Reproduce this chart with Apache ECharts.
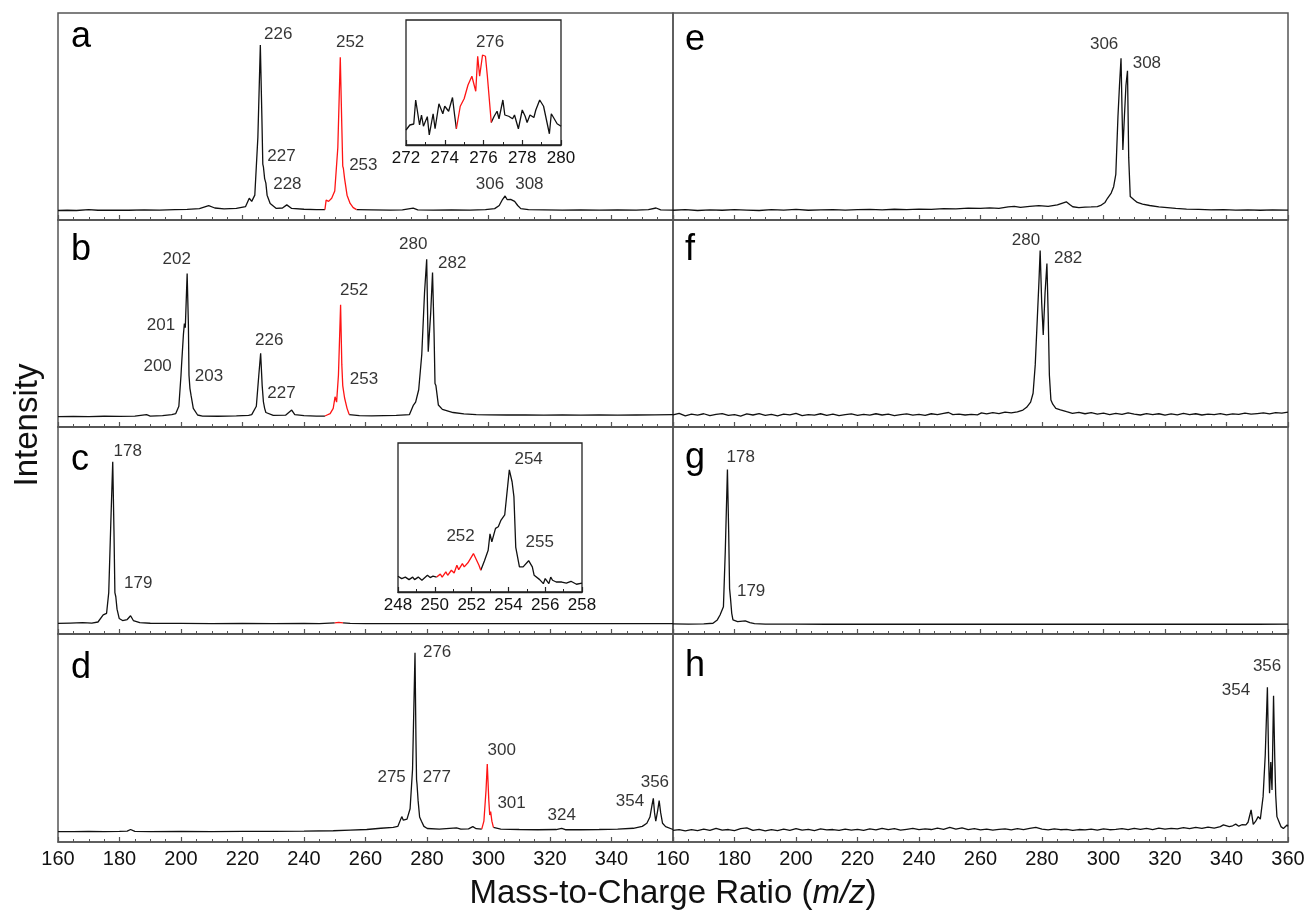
<!DOCTYPE html>
<html>
<head>
<meta charset="utf-8">
<script src="https://cdn.jsdelivr.net/npm/echarts/dist/echarts.min.js"></script>
<style>
html, body { margin: 0; padding: 0; background: #fff; }
#chart { width: 1308px; height: 915px; }
</style>
</head>
<body>
<div id="chart"></div>
<script>
// spectra as [m/z, intensity], intensity on a 0-100 panel scale
var aSpec = [[160,4.6],[163,4.7],[166,4.6],[170,5.0],[173,4.7],[178,4.8],[183,4.7],[188,4.9],[193,4.8],[198,5.0],[202,5.1],[206,5.5],[209,6.9],[211,5.8],[214,5.4],[218,5.6],[221,6.5],[222.2,10.5],[223,9],[224,12],[225,40],[225.8,84.5],[226.3,50],[226.6,27],[226.8,25.7],[227.2,20],[227.6,17.8],[228,12],[229,8],[231,5.6],[233,5.8],[234.4,7.3],[236,5.6],[240,5.2],[244,5.0],[246.8,5.0],
  [247.2,9.6],[248,9],[249,10.5],[250,14],[251,35],[251.8,78.6],[252.3,45],[252.6,26],[252.8,25],[253.2,20],[254,12],[255,8],[256,6],[257.1,5.0],
  [262,4.9],[268,4.8],[272,4.9],[275.5,5.7],[277,4.9],[282,4.8],[288,4.9],[294,4.8],[299,5.0],[302,5.5],[303.5,7],[304.6,10],[305.4,11.6],[306.1,9.8],[306.7,9.2],[307.2,10],[307.7,10.6],[308.5,9],[309.5,7],[310.5,5.5],[313,5.0],[318,4.9],[324,4.8],[330,4.9],[336,4.8],[342,4.9],[348,4.8],[352,5.0],[354.5,5.8],[356,4.9],[360,4.8]];
var aRed = [246.8, 257.1];
var aLabels = [['226',231.6,89.7],['252',255.0,85.7],['227',232.7,30.6],['228',234.6,17.2],['253',259.3,26.6],['306',300.5,17.4],['308',313.3,17.4]];

var aInset = [[272,12],[272.2,16],[272.4,16.8],[272.5,36],[272.7,16],[272.8,24],[272.9,15],[273.1,22.7],[273.2,8],[273.4,25],[273.5,13],[273.7,33],[273.9,25],[274.0,31],[274.2,27],[274.4,38],[274.5,25],[274.6,13],
  [274.8,31],[275.0,37],[275.2,48],[275.3,49],[275.4,55],[275.6,43],[275.7,71],[275.8,55],[275.95,72],[276.1,71],[276.2,55],[276.4,18],
  [276.55,23],[276.7,27],[276.8,21],[277.0,36],[277.1,24],[277.3,23],[277.5,21],[277.6,24],[277.8,13],[278.0,28],[278.15,23],[278.25,18],[278.4,24],[278.6,22],[278.7,28],[278.9,36],[279.1,31],[279.4,9],[279.5,25],[279.8,17],[280,15]];
var aInsetRed = [274.6, 276.4];
var aInsetLabels = [['276',276.34,82.4]];

var bSpec = [[160,5.0],[165,5.1],[170,5.0],[175,5.2],[180,5.1],[185,5.3],[188.8,6.0],[190,5.3],[194,5.5],[197,6.0],[198.3,6.5],[199.3,10],[200,25],[200.2,30.4],[200.5,30],[200.8,45],[201.1,50],[201.4,48],[202,74.2],[202.4,50],[202.6,25],[202.9,18.7],[203.3,15],[204,9],[205.4,5.8],[207,5.3],[212,5.2],[218,5.4],[222,5.6],[223,6.0],[224.5,10],[225.3,25],[225.9,35.6],[226.4,20],[226.8,12.2],[227.2,9],[227.6,7.0],[230,5.6],[234,5.7],[236,8.2],[237,6],[240,5.5],[244,5.3],[246.8,5.3],
  [247.5,5.8],[248.5,6.5],[249.5,9],[250.1,14.6],[250.6,12],[251.2,25],[251.9,59],[252.3,30],[252.6,20],[252.8,17.9],[253.2,14],[254,9],[254.7,6.0],
  [258,5.5],[262,5.4],[266,5.5],[270,5.6],[273,5.9],[274.3,6.0],[275.6,10.6],[276.3,12],[277.3,18],[278.3,35],[279.2,65],[279.9,81],[280.4,36.4],[281.2,55],[281.8,74.6],[282.3,45],[282.6,21],[282.9,20],[283.7,10.6],[285,8.5],[288.5,7.0],[292,6.3],[296,6.0],[300,5.9],[306,5.8],[312,5.8],[318,5.7],[324,5.8],[330,5.7],[336,5.8],[342,5.7],[348,5.8],[354,5.9],[360,6.0]];
var bRed = [246.8, 254.7];
var bLabels = [['202',198.6,81.0],['201',193.5,49.3],['200',192.4,29.1],['203',209.1,24.3],['226',228.7,42.0],['227',232.7,16.3],['252',256.3,65.8],['253',259.5,23.0],['280',275.5,88.3],['282',288.2,79.1]];

var cSpec = [[160,5.1],[164,5.3],[168,5.5],[171,5.3],[173,5.8],[174.7,9.2],[175.3,8.5],[175.8,10],[176.5,20],[177.2,55],[177.8,83.2],[178.2,50],[178.5,20],[178.8,18],[179.2,12],[179.9,7.5],[181,6.5],[182.5,7],[183.6,8.8],[184.5,6.5],[186.6,5.5],[190,5.2],[200,5.1],[210,5.0],[220,5.1],[230,5.0],[240,5.1],[245,5.0],[250,5.4],[251.3,5.6],[252.7,5.4],[255,5.1],[260,5.0],[270,5.0],[280,5.0],[290,5.0],[300,5.0],[310,5.0],[320,5.0],[330,5.0],[340,5.0],[350,5.0],[360,5.0]];
var cRed = [250, 252.7];
var cLabels = [['178',182.7,88.4],['179',186.1,24.5]];

var cInset = [[248.0,10.6],[248.2,9],[248.4,10],[248.6,8.3],[248.8,10],[248.9,8.3],[249.1,10],[249.3,7.9],[249.6,11.2],[249.75,9.7],[249.9,10.6],[250.1,10],
  [250.3,12],[250.4,10],[250.6,13.5],[250.7,11.2],[250.9,14.6],[251.05,12.8],[251.2,18],[251.3,15],[251.5,19],[251.6,16.9],[251.8,19.6],[252.1,25.8],[252.4,18],[252.5,14.6],
  [252.7,21],[252.9,28],[253.0,39],[253.1,33.7],[253.3,42.7],[253.45,43.8],[253.6,48.3],[253.8,51.7],[253.9,52],[254.05,82],[254.2,74],[254.3,64],[254.4,30],[254.6,16.9],[254.8,16.9],[255.1,21],[255.3,16.9],[255.4,11.2],[255.7,8.3],[255.9,5.6],[256.0,9],[256.2,5.6],[256.3,10],[256.4,7.9],[256.6,6.7],[256.9,6.7],[257.15,6],[257.4,7.2],[257.7,5.2],[258,6]];
var cInsetRed = [250.1, 252.5];
var cInsetLabels = [['254',255.1,89.3],['252',251.4,37.1],['255',255.7,33.1]];

var dSpec = [[160,5.0],[165,5.0],[170,5.1],[175,5.0],[180,5.1],[182.5,5.2],[183.6,6.0],[185,5.1],[190,5.0],[200,5.1],[210,5.0],[220,5.1],[230,5.1],[240,5.2],[249.5,5.4],[255,5.7],[260.4,6.0],[265,6.6],[269,7.0],[270.5,7.5],[271.8,12.2],[272.3,10.5],[272.6,10],[273.5,11],[274.5,16],[275.3,35],[275.8,70],[276.1,91],[276.4,50],[276.6,30],[276.75,27.9],[277.1,20],[277.6,12],[278.2,10],[279,7.5],[280.1,6.5],[284,6.2],[289.6,6.8],[291,6.2],[293.5,6.3],[294.9,7.4],[296,6.4],[297.8,6.2],
  [298.5,10],[299.2,25],[299.6,37.5],[300.1,20],[300.4,13],[300.7,14.6],[301.1,10],[301.6,7.0],
  [304,6.2],[310,6.0],[316,5.9],[322,6.0],[323.8,6.6],[325,5.9],[330,5.9],[336,6.0],[342,6.2],[347.1,6.6],[350,7.5],[351.5,9],[352.5,12],[353.2,18],[353.6,21],[354,14],[354.4,10],[355,15],[355.5,19.9],[356,14],[356.6,9],[357.6,7.4],[360,6.0]];
var dRed = [297.8, 301.6];
var dLabels = [['276',283.3,91.2],['275',268.5,31.1],['277',283.2,31.1],['300',304.3,43.9],['301',307.5,18.6],['324',323.8,12.6],['354',346.0,19.7],['356',354.1,28.7]];

var eSpec = [[160,4.7],[164,5.0],[168,4.6],[172,4.9],[176,4.7],[180,5.0],[184,4.8],[188,4.6],[192,5.0],[196,4.8],[200,5.1],[204,4.7],[208,4.9],[212,5.0],[216,4.8],[220,5.0],[224,5.1],[228,4.9],[232,5.2],[236,5.0],[240,5.3],[244,5.1],[248,5.5],[252,5.4],[256,5.7],[260,5.6],[263,5.9],[266,5.6],[269,6.3],[271,6.6],[273,6.1],[276,6.6],[279,6.9],[282,6.6],[285,7.3],[287.9,8.8],[289,7.5],[290,6.4],[292,6.0],[294,6.2],[296,6.3],[298,6.5],[299.3,7.2],[300.5,8.5],[301.3,10.5],[302.5,13],[303.3,16.1],[304,22],[304.7,49.9],[305.2,65],[305.7,78.1],[306,55],[306.3,33.8],[306.8,50],[307.3,65],[307.8,72.1],[308.2,30],[308.7,11.3],[310,9.7],[311,8.5],[312.7,7.7],[315,7.0],[318,6.3],[323.5,5.6],[327,5.3],[331,5.1],[335,4.9],[339,5.0],[343,4.8],[347,4.9],[351,4.7],[355,4.9],[360,4.8]];
var eLabels = [['306',300.2,85.0],['308',314.1,75.8]];

var fSpec = [[160,5.9],[162,6.6],[164,5.4],[166,6.2],[168,5.7],[170,6.4],[172,5.5],[174,6.1],[176,6.5],[178,5.6],[180,6.0],[182,5.3],[184,6.3],[186,5.8],[188,6.5],[190,5.6],[192,6.1],[194,5.4],[196,6.2],[198,5.9],[200,6.6],[202,5.5],[204,6.0],[206,5.7],[208,6.4],[210,5.6],[212,6.2],[214,5.5],[216,6.0],[218,6.3],[220,5.6],[222,6.1],[224,5.7],[226,6.4],[228,5.8],[230,6.2],[232,5.5],[234,6.0],[236,6.3],[238,5.7],[240,6.1],[242,5.6],[244,6.4],[246,6.0],[248,6.6],[249.6,7.0],[251,6.0],[253,6.2],[255,5.8],[257,6.1],[259,5.9],[260.3,6.8],[262,6.3],[264,6.9],[266,6.5],[268,7.2],[270,6.8],[272,7.3],[273.8,8.2],[275,9.5],[276.3,12],[277.1,16.3],[277.8,30],[278.5,53.3],[279,70],[279.4,85.2],[279.9,60],[280.4,44.4],[281,65],[281.6,79],[282,55],[282.4,25],[282.9,13],[283.5,11],[284.5,9],[286,8.3],[288,7.4],[289.9,6.6],[292,7.1],[294,6.4],[296,6.9],[298,6.2],[300,6.7],[302,6.0],[304,6.6],[306,6.1],[308,6.8],[310,6.2],[312,5.8],[314,6.5],[316,6.0],[318,6.4],[320,5.7],[322,6.3],[324,5.9],[326,6.6],[328,6.0],[330,6.4],[332,5.8],[334,6.2],[336,6.0],[338,6.5],[340,5.9],[342,6.3],[344,6.1],[346,6.7],[348,6.2],[350,6.5],[352,6.8],[354,6.3],[356,6.9],[358,6.7],[360,7.2]];
var fLabels = [['280',274.8,90.3],['282',288.5,81.6]];

var gSpec = [[160,4.9],[165,4.8],[170,4.9],[173,5.2],[174.4,6.8],[175.3,9.2],[175.8,8.5],[176.4,13.2],[177,40],[177.7,79.5],[178.1,50],[178.4,22],[178.7,17.2],[179.1,10],[179.5,6.8],[181,6.0],[183.5,6.3],[185,5.5],[186.5,5.0],[190,4.8],[200,4.8],[210,4.7],[220,4.8],[230,4.7],[240,4.8],[250,4.7],[260,4.8],[270,4.7],[280,4.8],[290,4.7],[300,4.8],[310,4.7],[320,4.8],[330,4.7],[340,4.8],[350,4.7],[360,4.8]];
var gLabels = [['178',182.0,85.4],['179',185.4,20.4]];

var hSpec = [[160,5.6],[162,6.0],[164,5.4],[166,5.9],[168,5.5],[170,6.2],[172,5.6],[174,6.6],[176,5.7],[178,6.0],[180,5.5],[182,6.4],[184,6.8],[186,5.6],[188,6.1],[190,5.3],[192,5.9],[194,5.5],[196,6.2],[198,5.6],[200,6.4],[202,5.7],[204,6.1],[206,5.5],[208,6.3],[210,5.8],[212,6.0],[214,5.6],[216,6.2],[218,5.7],[220,6.1],[222,5.6],[224,6.3],[226,5.8],[228,6.6],[230,5.9],[232,6.4],[234,5.7],[236,6.1],[238,6.5],[240,5.9],[242,6.3],[244,6.0],[246,6.7],[248,6.1],[250,7.0],[252,6.2],[254,6.8],[256,6.0],[258,6.4],[260,5.8],[262,6.2],[264,5.7],[266,6.1],[268,6.3],[270,5.8],[272,6.4],[274,6.0],[276,6.5],[278,7.0],[280,6.2],[282,5.8],[284,6.3],[286,5.9],[288,6.1],[290,5.6],[292,6.0],[294,5.8],[296,6.2],[298,5.7],[300,6.3],[302,5.9],[304,6.1],[306,6.4],[308,5.9],[310,6.6],[312,6.1],[314,6.5],[316,6.0],[318,6.7],[320,6.2],[322,6.6],[324,6.3],[326,6.9],[328,6.4],[330,7.0],[332,6.5],[334,7.2],[336,6.7],[338,7.4],[339,8.2],[340.9,7.4],[342,7.8],[343,8.6],[344,7.6],[345,8.3],[346.3,8.2],[347,9.5],[348,15.4],[348.7,8.5],[349.5,10],[350.3,12.2],[351,11],[351.9,21.8],[352.6,41.8],[353.3,74.4],[353.7,40],[354,23.4],[354.4,38.5],[354.8,25],[355.3,70.3],[355.7,40],[356,22.6],[356.4,12.2],[357,10],[357.7,7.4],[358.5,6.5],[359.1,5.8],[359.7,8.2],[360,7.5]];
var hLabels = [['356',353.2,84.6],['354',343.1,73.1]];

var xTicks = [160, 360, 20];
var insetATicks = [272, 280, 2];
var insetCTicks = [248, 258, 2];

var FONT = 'Liberation Sans, Arial, sans-serif';
var INK = '#111';
var RED = '#ff1414';

var chart = echarts.init(document.getElementById('chart'), null, { renderer: 'canvas' });

var grids = [], xAxes = [], yAxes = [], series = [];

function splitRed(spec, red) {
    var before = [], mid = [], after = [];
    for (var i = 0; i < spec.length; i++) {
        var p = spec[i];
        if (p[0] <= red[0]) before.push(p);
        if (p[0] >= red[0] && p[0] <= red[1]) mid.push(p);
        if (p[0] >= red[1]) after.push(p);
    }
    return [before, mid, after];
}

function addLine(idx, data, color) {
    series.push({
        type: 'line', xAxisIndex: idx, yAxisIndex: idx, data: data,
        symbol: 'none', smooth: false, silent: true, z: 3,
        lineStyle: { color: color, width: 1.3 }
    });
}

function addLabels(idx, labels) {
    series.push({
        type: 'scatter', xAxisIndex: idx, yAxisIndex: idx, silent: true, z: 5,
        symbolSize: 1, itemStyle: { color: 'rgba(0,0,0,0)' },
        label: { show: true, position: 'inside', formatter: '{b}', fontSize: 17, color: '#000', fontFamily: FONT },
        data: labels.map(function (l) { return { name: l[0], value: [l[1], l[2]] }; })
    });
}

function addPanel(box, spec, red, labels, ticks, opts) {
    var idx = grids.length;
    grids.push({
        left: box[0], top: box[1], width: box[2], height: box[3],
        show: true, borderColor: opts.border, borderWidth: opts.borderWidth,
        backgroundColor: opts.bg || 'transparent'
    });
    xAxes.push({
        type: 'value', gridIndex: idx, min: ticks[0], max: ticks[1], interval: ticks[2],
        axisLine: { show: true, onZero: false, lineStyle: { color: opts.border, width: opts.borderWidth } },
        axisTick: { show: true, inside: true, length: 5, lineStyle: { color: opts.border, width: 1.2 } },
        minorTick: { show: true, splitNumber: opts.minor, length: 3, lineStyle: { color: opts.border, width: 1 } },
        splitLine: { show: false },
        axisLabel: {
            show: opts.labels, margin: opts.margin, fontSize: opts.tickFont, color: INK, fontFamily: FONT,
            showMinLabel: true, showMaxLabel: opts.hideMax ? false : true
        }
    });
    yAxes.push({ type: 'value', gridIndex: idx, min: 0, max: 100, show: false });
    if (red) {
        var parts = splitRed(spec, red);
        addLine(idx, parts[0], INK);
        addLine(idx, parts[2], INK);
        addLine(idx, parts[1], RED);
    } else {
        addLine(idx, spec, INK);
    }
    addLabels(idx, labels);
}

var colX = [58, 673];
var rowY = [13, 220, 427, 634];
var PW = 615, PH = 207;

var mainOpts = function (labels, hideMax) {
    return { border: '#555', borderWidth: 1.5, minor: 4, labels: labels, hideMax: hideMax, margin: 7, tickFont: 20 };
};

addPanel([colX[0], rowY[0], PW, PH], aSpec, aRed, aLabels, xTicks, mainOpts(false, false));
addPanel([colX[0], rowY[1], PW, PH], bSpec, bRed, bLabels, xTicks, mainOpts(false, false));
addPanel([colX[0], rowY[2], PW, PH], cSpec, cRed, cLabels, xTicks, mainOpts(false, false));
addPanel([colX[0], rowY[3], PW, PH + 1], dSpec, dRed, dLabels, xTicks, mainOpts(true, true));
addPanel([colX[1], rowY[0], PW, PH], eSpec, null, eLabels, xTicks, mainOpts(false, false));
addPanel([colX[1], rowY[1], PW, PH], fSpec, null, fLabels, xTicks, mainOpts(false, false));
addPanel([colX[1], rowY[2], PW, PH], gSpec, null, gLabels, xTicks, mainOpts(false, false));
addPanel([colX[1], rowY[3], PW, PH + 1], hSpec, null, hLabels, xTicks, mainOpts(true, false));

var insetOpts = { border: '#222', borderWidth: 1.3, minor: 2, labels: true, hideMax: false, margin: 5, tickFont: 17, bg: '#fff' };
addPanel([406, 20, 155, 125], aInset, aInsetRed, aInsetLabels, insetATicks, insetOpts);
addPanel([398, 443, 184, 149], cInset, cInsetRed, cInsetLabels, insetCTicks, insetOpts);

var letters = [['a', 71, 39], ['b', 71, 252], ['c', 71, 462], ['d', 71, 670], ['e', 685, 42], ['f', 685, 252], ['g', 685, 460], ['h', 685, 668]];
var graphics = letters.map(function (l) {
    return {
        type: 'text', left: l[1], top: l[2] - 20, z: 10, silent: true,
        style: { text: l[0], fontSize: 36, fontFamily: FONT, fill: '#000' }
    };
});
graphics.push({
    type: 'text', x: 673, y: 894, z: 10, silent: true,
    style: {
        text: '{n|Mass-to-Charge Ratio (}{i|m/z}{n|)}', align: 'center', verticalAlign: 'middle',
        rich: {
            n: { fontSize: 33, fontFamily: FONT, fill: '#111' },
            i: { fontSize: 33, fontFamily: FONT, fontStyle: 'italic', fill: '#111' }
        }
    }
});
graphics.push({
    type: 'text', x: 28, y: 425, rotation: Math.PI / 2, z: 10, silent: true,
    style: { text: 'Intensity', align: 'center', verticalAlign: 'middle', fontSize: 33, fontFamily: FONT, fill: '#111' }
});

chart.setOption({
    animation: false,
    backgroundColor: '#fff',
    grid: grids,
    xAxis: xAxes,
    yAxis: yAxes,
    series: series,
    graphic: graphics
});
</script>
</body>
</html>
